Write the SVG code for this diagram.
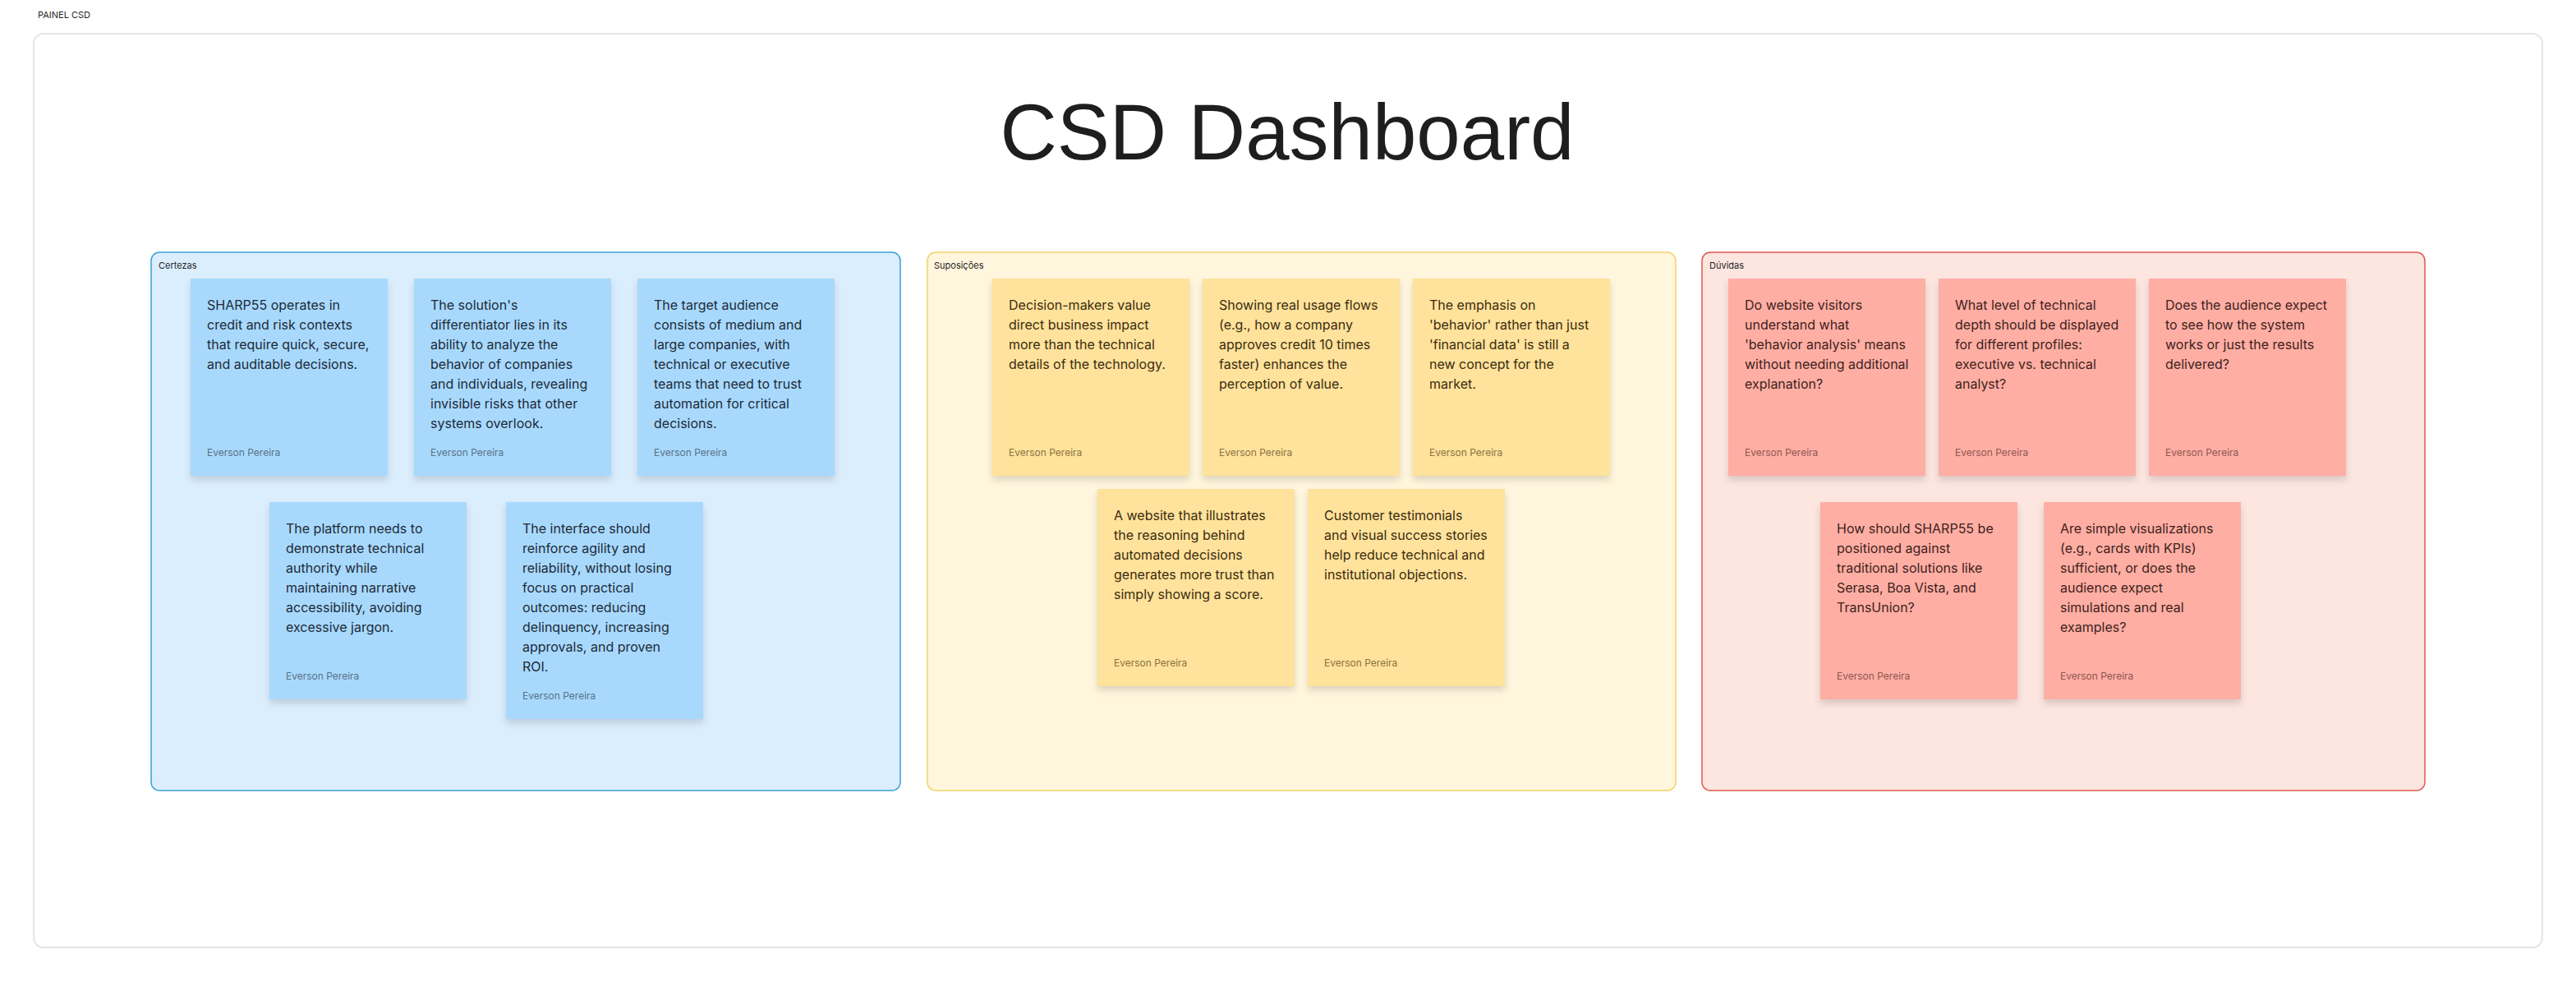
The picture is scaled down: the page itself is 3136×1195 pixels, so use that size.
<svg xmlns="http://www.w3.org/2000/svg" width="3136" height="1195" viewBox="0 0 3136 1195">
<defs>
<filter id="sh" x="-10%" y="-10%" width="120%" height="125%">
<feDropShadow dx="0" dy="5" stdDeviation="4" flood-color="#000" flood-opacity="0.14"/>
</filter>
<style>
.frame{fill:#ffffff;stroke:#e4e4e4;stroke-width:2}
.lbl{font-family:Inter,"Liberation Sans",sans-serif;font-size:11px;fill:#1f1f1f}
.title{font-family:"Liberation Sans",Arial,sans-serif;font-size:96px;fill:#1e1e1e}
.sec-c{fill:#dbeefe;stroke:#3ba1d8;stroke-width:1.5}
.sec-s{fill:#fff6dd;stroke:#f2d267;stroke-width:1.5}
.sec-d{fill:#fde5e0;stroke:#df5a4f;stroke-width:1.5}
.st-c{fill:#a8d9fd;filter:url(#sh)}
.st-s{fill:#ffe29b;filter:url(#sh)}
.st-d{fill:#ffaea4;filter:url(#sh)}
.tx{font-family:Inter,"Liberation Sans",sans-serif;font-size:16px}
.au{font-family:Inter,"Liberation Sans",sans-serif;font-size:12px}
.tc{fill:#1d2a37}.ac{fill:#5a7186}
.ts{fill:#3a2c10}.as{fill:#8a7343}
.td{fill:#3d1f1b}.ad{fill:#8e5750}
</style>
</defs>
<rect width="3136" height="1195" fill="#ffffff"/>
<text class="lbl" x="46" y="22">PAINEL CSD</text>
<rect class="frame" x="41" y="41" width="3054" height="1112" rx="12"/>
<text class="title" x="1567" y="194" text-anchor="middle">CSD Dashboard</text>

<g id="certezas">
<rect class="sec-c" x="184" y="307" width="912" height="655" rx="10"/>
<text class="lbl" x="193" y="327">Certezas</text>
</g>
<g id="suposicoes">
<rect class="sec-s" x="1129" y="307" width="911" height="655" rx="10"/>
<text class="lbl" x="1137" y="327">Suposições</text>
</g>
<g id="duvidas">
<rect class="sec-d" x="2072" y="307" width="880" height="655" rx="10"/>
<text class="lbl" x="2081" y="327">Dúvidas</text>
</g>

<g id="connectors"></g>

<g id="c1"><rect class="st-c" x="232" y="339" width="240" height="240"/>
<text class="tx tc" x="252" y="377"><tspan x="252">SHARP55 operates in</tspan><tspan x="252" dy="24">credit and risk contexts</tspan><tspan x="252" dy="24">that require quick, secure,</tspan><tspan x="252" dy="24">and auditable decisions.</tspan></text>
<text class="au ac" x="252" y="555">Everson Pereira</text></g>

<g id="c2"><rect class="st-c" x="504" y="339" width="240" height="240"/>
<text class="tx tc" x="524" y="377"><tspan x="524">The solution's</tspan><tspan x="524" dy="24">differentiator lies in its</tspan><tspan x="524" dy="24">ability to analyze the</tspan><tspan x="524" dy="24">behavior of companies</tspan><tspan x="524" dy="24">and individuals, revealing</tspan><tspan x="524" dy="24">invisible risks that other</tspan><tspan x="524" dy="24">systems overlook.</tspan></text>
<text class="au ac" x="524" y="555">Everson Pereira</text></g>

<g id="c3"><rect class="st-c" x="776" y="339" width="240" height="240"/>
<text class="tx tc" x="796" y="377"><tspan x="796">The target audience</tspan><tspan x="796" dy="24">consists of medium and</tspan><tspan x="796" dy="24">large companies, with</tspan><tspan x="796" dy="24">technical or executive</tspan><tspan x="796" dy="24">teams that need to trust</tspan><tspan x="796" dy="24">automation for critical</tspan><tspan x="796" dy="24">decisions.</tspan></text>
<text class="au ac" x="796" y="555">Everson Pereira</text></g>

<g id="c4"><rect class="st-c" x="328" y="611" width="240" height="240"/>
<text class="tx tc" x="348" y="649"><tspan x="348">The platform needs to</tspan><tspan x="348" dy="24">demonstrate technical</tspan><tspan x="348" dy="24">authority while</tspan><tspan x="348" dy="24">maintaining narrative</tspan><tspan x="348" dy="24">accessibility, avoiding</tspan><tspan x="348" dy="24">excessive jargon.</tspan></text>
<text class="au ac" x="348" y="827">Everson Pereira</text></g>

<g id="c5"><rect class="st-c" x="616" y="611" width="240" height="264"/>
<text class="tx tc" x="636" y="649"><tspan x="636">The interface should</tspan><tspan x="636" dy="24">reinforce agility and</tspan><tspan x="636" dy="24">reliability, without losing</tspan><tspan x="636" dy="24">focus on practical</tspan><tspan x="636" dy="24">outcomes: reducing</tspan><tspan x="636" dy="24">delinquency, increasing</tspan><tspan x="636" dy="24">approvals, and proven</tspan><tspan x="636" dy="24">ROI.</tspan></text>
<text class="au ac" x="636" y="851">Everson Pereira</text></g>

<g id="s1"><rect class="st-s" x="1208" y="339" width="240" height="240"/>
<text class="tx ts" x="1228" y="377"><tspan x="1228">Decision-makers value</tspan><tspan x="1228" dy="24">direct business impact</tspan><tspan x="1228" dy="24">more than the technical</tspan><tspan x="1228" dy="24">details of the technology.</tspan></text>
<text class="au as" x="1228" y="555">Everson Pereira</text></g>

<g id="s2"><rect class="st-s" x="1464" y="339" width="240" height="240"/>
<text class="tx ts" x="1484" y="377"><tspan x="1484">Showing real usage flows</tspan><tspan x="1484" dy="24">(e.g., how a company</tspan><tspan x="1484" dy="24">approves credit 10 times</tspan><tspan x="1484" dy="24">faster) enhances the</tspan><tspan x="1484" dy="24">perception of value.</tspan></text>
<text class="au as" x="1484" y="555">Everson Pereira</text></g>

<g id="s3"><rect class="st-s" x="1720" y="339" width="240" height="240"/>
<text class="tx ts" x="1740" y="377"><tspan x="1740">The emphasis on</tspan><tspan x="1740" dy="24">'behavior' rather than just</tspan><tspan x="1740" dy="24">'financial data' is still a</tspan><tspan x="1740" dy="24">new concept for the</tspan><tspan x="1740" dy="24">market.</tspan></text>
<text class="au as" x="1740" y="555">Everson Pereira</text></g>

<g id="s4"><rect class="st-s" x="1336" y="595" width="240" height="240"/>
<text class="tx ts" x="1356" y="633"><tspan x="1356">A website that illustrates</tspan><tspan x="1356" dy="24">the reasoning behind</tspan><tspan x="1356" dy="24">automated decisions</tspan><tspan x="1356" dy="24">generates more trust than</tspan><tspan x="1356" dy="24">simply showing a score.</tspan></text>
<text class="au as" x="1356" y="811">Everson Pereira</text></g>

<g id="s5"><rect class="st-s" x="1592" y="595" width="240" height="240"/>
<text class="tx ts" x="1612" y="633"><tspan x="1612">Customer testimonials</tspan><tspan x="1612" dy="24">and visual success stories</tspan><tspan x="1612" dy="24">help reduce technical and</tspan><tspan x="1612" dy="24">institutional objections.</tspan></text>
<text class="au as" x="1612" y="811">Everson Pereira</text></g>

<g id="d1"><rect class="st-d" x="2104" y="339" width="240" height="240"/>
<text class="tx td" x="2124" y="377"><tspan x="2124">Do website visitors</tspan><tspan x="2124" dy="24">understand what</tspan><tspan x="2124" dy="24">'behavior analysis' means</tspan><tspan x="2124" dy="24">without needing additional</tspan><tspan x="2124" dy="24">explanation?</tspan></text>
<text class="au ad" x="2124" y="555">Everson Pereira</text></g>

<g id="d2"><rect class="st-d" x="2360" y="339" width="240" height="240"/>
<text class="tx td" x="2380" y="377"><tspan x="2380">What level of technical</tspan><tspan x="2380" dy="24">depth should be displayed</tspan><tspan x="2380" dy="24">for different profiles:</tspan><tspan x="2380" dy="24">executive vs. technical</tspan><tspan x="2380" dy="24">analyst?</tspan></text>
<text class="au ad" x="2380" y="555">Everson Pereira</text></g>

<g id="d3"><rect class="st-d" x="2616" y="339" width="240" height="240"/>
<text class="tx td" x="2636" y="377"><tspan x="2636">Does the audience expect</tspan><tspan x="2636" dy="24">to see how the system</tspan><tspan x="2636" dy="24">works or just the results</tspan><tspan x="2636" dy="24">delivered?</tspan></text>
<text class="au ad" x="2636" y="555">Everson Pereira</text></g>

<g id="d4"><rect class="st-d" x="2216" y="611" width="240" height="240"/>
<text class="tx td" x="2236" y="649"><tspan x="2236">How should SHARP55 be</tspan><tspan x="2236" dy="24">positioned against</tspan><tspan x="2236" dy="24">traditional solutions like</tspan><tspan x="2236" dy="24">Serasa, Boa Vista, and</tspan><tspan x="2236" dy="24">TransUnion?</tspan></text>
<text class="au ad" x="2236" y="827">Everson Pereira</text></g>

<g id="d5"><rect class="st-d" x="2488" y="611" width="240" height="240"/>
<text class="tx td" x="2508" y="649"><tspan x="2508">Are simple visualizations</tspan><tspan x="2508" dy="24">(e.g., cards with KPIs)</tspan><tspan x="2508" dy="24">sufficient, or does the</tspan><tspan x="2508" dy="24">audience expect</tspan><tspan x="2508" dy="24">simulations and real</tspan><tspan x="2508" dy="24">examples?</tspan></text>
<text class="au ad" x="2508" y="827">Everson Pereira</text></g>
</svg>
